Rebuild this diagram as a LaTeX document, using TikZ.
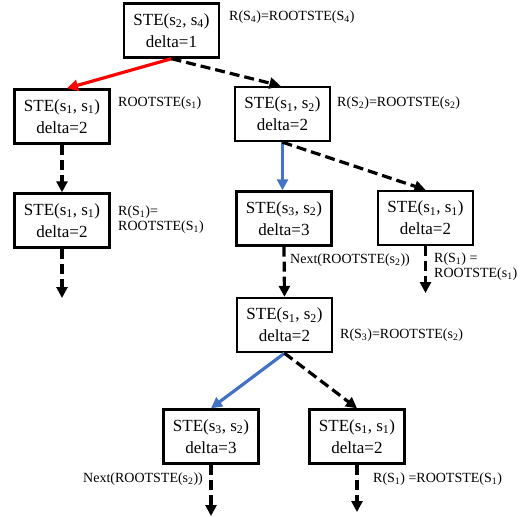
\documentclass[tikz,border=0pt]{standalone}
\usepackage{fontspec}
\setmainfont{Liberation Serif}
\usetikzlibrary{arrows.meta}
\definecolor{myblue}{RGB}{68,114,196}
\newcommand{\sbs}[1]{\textsubscript{#1}}
\begin{document}
\begin{tikzpicture}[x=1pt,y=-1pt,
  stebox/.style={draw=black,line width=2.4pt,fill=white,minimum width=95pt,minimum height=54pt,align=center,inner sep=2pt,font=\fontsize{17}{22}\selectfont},
  lab/.style={anchor=west,inner sep=0pt,align=left,font=\fontsize{14}{15}\selectfont},
  conn/.style={line width=3.2pt,-{Triangle[length=11pt,width=11pt]}},
  dconn/.style={conn,black,dash pattern=on 10pt off 5pt},
  rconn/.style={conn,red},
  bconn/.style={conn,myblue}]
\useasboundingbox (0,0) rectangle (523,517);
\node[stebox] (root) at (171.5,30.5) {STE(s\sbs{2}, s\sbs{4})\\delta=1};
\node[stebox] (L1) at (62,116.5) {STE(s\sbs{1}, s\sbs{1})\\delta=2};
\node[stebox] (L2) at (62,220.5) {STE(s\sbs{1}, s\sbs{1})\\delta=2};
\node[stebox] (R1) at (282.5,114) {STE(s\sbs{1}, s\sbs{2})\\delta=2};
\node[stebox] (R2a) at (284,218.5) {STE(s\sbs{3}, s\sbs{2})\\delta=3};
\node[stebox] (R2b) at (425.5,218) {STE(s\sbs{1}, s\sbs{1})\\delta=2};
\node[stebox] (M) at (284.5,325) {STE(s\sbs{1}, s\sbs{2})\\delta=2};
\node[stebox] (B1) at (211,436.5) {STE(s\sbs{3}, s\sbs{2})\\delta=3};
\node[stebox] (B2) at (357,436.5) {STE(s\sbs{1}, s\sbs{1})\\delta=2};
\coordinate (e1) at (62,298);
\coordinate (e2) at (425.5,293);
\coordinate (e3) at (211,516);
\coordinate (e4) at (357,512);
\draw[rconn] (root.south) -- ([xshift=5pt]L1.north);
\draw[dconn] (root.south) -- ([xshift=-2pt]R1.north);
\draw[dconn] (L1.south) -- (L2.north);
\draw[dconn] (L2.south) -- (e1);
\draw[bconn] (R1.south) -- (R1.south |- R2a.north);
\draw[dconn] (R1.south) -- (R2b.north);
\draw[dconn] (R2a.south) -- (M.north);
\draw[dconn] (R2b.south) -- (e2);
\draw[bconn] (M.south) -- (B1.north);
\draw[dconn] (M.south) -- (B2.north);
\draw[dconn] (B1.south) -- (e3);
\draw[dconn] (B2.south) -- (e4);
\node[lab] (t1) at (229,17) {R(S\sbs{4})=ROOTSTE(S\sbs{4})};
\node[lab] (t2) at (118,103) {ROOTSTE(s\sbs{1})};
\node[lab] (t3) at (118,219.5) {R(S\sbs{1})=\\ROOTSTE(S\sbs{1})};
\node[lab] (t4) at (337,103) {R(S\sbs{2})=ROOTSTE(s\sbs{2})};
\node[lab] (t5) at (290,260) {Next(ROOTSTE(s\sbs{2}))};
\node[lab] (t6) at (434,266.5) {R(S\sbs{1}) =\\ROOTSTE(s\sbs{1})};
\node[lab] (t7) at (340,335) {R(S\sbs{3})=ROOTSTE(s\sbs{2})};
\node[lab] (t8) at (83,479) {Next(ROOTSTE(s\sbs{2}))};
\node[lab] (t9) at (373,479) {R(S\sbs{1}) =ROOTSTE(S\sbs{1})};
\end{tikzpicture}
\end{document}
